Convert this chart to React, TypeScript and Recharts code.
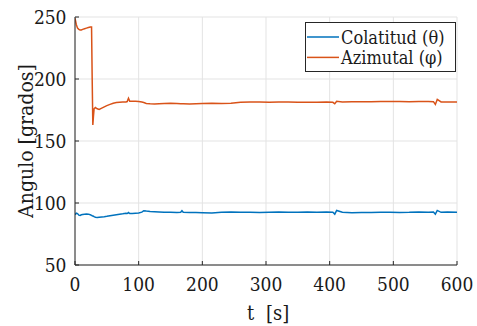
import React from "react";
import { LineChart, Line, XAxis, YAxis, CartesianGrid } from "recharts";

// Sample times (s)
const times = [
  0, 2, 4, 6, 8, 10, 12, 15, 18, 21, 24, 26, 27, 28, 29, 30, 32, 35, 38, 42,
  46, 50, 55, 60, 65, 70, 75, 80, 82, 84, 86, 90, 95, 100, 105, 108, 112, 118,
  125, 132, 140, 150, 160, 166, 168, 170, 180, 190, 200, 215, 230, 245, 260,
  275, 290, 305, 320, 335, 350, 365, 380, 395, 405, 408, 411, 420, 435, 450,
  465, 480, 495, 510, 525, 540, 555, 563, 566, 569, 575, 585, 600,
];

// Colatitude angle θ (degrees)
const colatitud = [
  90.5, 91.8, 91.5, 90.2, 90, 90.5, 90.8, 91, 91.2, 91, 90.5, 90, 89.7, 89.5,
  89.3, 89, 88.5, 88.3, 88.5, 88.8, 89, 89.3, 89.8, 90.2, 90.6, 91, 91.3, 91.8,
  91.5, 92.3, 91.5, 91.6, 91.8, 92, 92.6, 93.8, 93.5, 93.2, 93, 92.8, 92.6,
  92.5, 92.4, 92.5, 93.8, 92.5, 92.4, 92.3, 92.2, 92, 92.5, 92.8, 92.6, 92.5,
  92.3, 92.6, 92.8, 92.5, 92.6, 92.8, 92.5, 92.7, 92.5, 91, 94, 92.5, 92.2,
  92.3, 92.4, 92.6, 92.5, 92.4, 92.5, 92.8, 92.6, 92.8, 91, 94, 92.5, 92.8,
  92.6,
];

// Azimuth angle φ (degrees)
const azimutal = [
  249, 244, 241, 240, 239.5, 239.5, 240, 240.5, 241, 241.5, 242, 242, 200, 163,
  170, 176, 177, 176, 175.5, 176.5, 177.5, 178.5, 179.5, 180.5, 181, 181.3,
  181.5, 181.5, 181.8, 184.5, 182, 182, 182, 181.8, 181.5, 181, 180.3, 180,
  179.8, 180, 180.3, 180.4, 180.2, 180, 180, 180, 179.8, 180, 180.3, 180.4,
  180.2, 180.5, 181.3, 181.5, 181.4, 181.3, 181.4, 181.4, 181.2, 181.3, 181.3,
  181.4, 181.2, 180, 182, 181.5, 181.6, 181.7, 181.7, 181.8, 181.8, 181.8,
  181.7, 181.8, 181.8, 181.7, 179.5, 183.5, 181.5, 181.4, 181.5,
];

const xTicks = [0, 100, 200, 300, 400, 500, 600];
const yTicks = [50, 100, 150, 200, 250];

const seriesNames = ["Colatitud (\u03b8)", "Azimutal (\u03c6)"];
const seriesColors = ["#0072BD", "#D95319"];

const data = times.map((t, i) => ({
  t,
  theta: colatitud[i],
  phi: azimutal[i],
}));

const FONT = "'DejaVu Serif', serif";
const TEXT_STYLE = { fontStretch: "condensed" as const };
const AXIS = "#262626";
const TEXT = "#1a1a1a";
const TICK_LEN = 4;
const LINE_W = 1.5;

const BottomTick = (props: any) => {
  const { x, y, payload } = props;
  return (
    <g>
      <line x1={x} x2={x} y1={y} y2={y - TICK_LEN} stroke={AXIS} strokeWidth={1} />
      <text
        x={x}
        y={y + 19}
        textAnchor="middle"
        dominantBaseline="central"
        fontFamily={FONT}
        fontSize={19}
        style={TEXT_STYLE}
        fill={TEXT}
      >
        {payload.value}
      </text>
    </g>
  );
};

const TopTick = (props: any) => {
  const { x, y } = props;
  return <line x1={x} x2={x} y1={y} y2={y + TICK_LEN} stroke={AXIS} strokeWidth={1} />;
};

const LeftTick = (props: any) => {
  const { x, y, payload } = props;
  return (
    <g>
      <line x1={x} x2={x + TICK_LEN} y1={y} y2={y} stroke={AXIS} strokeWidth={1} />
      <text
        x={x - 8.5}
        y={y}
        textAnchor="end"
        dominantBaseline="central"
        fontFamily={FONT}
        fontSize={19}
        style={TEXT_STYLE}
        fill={TEXT}
      >
        {payload.value}
      </text>
    </g>
  );
};

const RightTick = (props: any) => {
  const { x, y } = props;
  return <line x1={x} x2={x - TICK_LEN} y1={y} y2={y} stroke={AXIS} strokeWidth={1} />;
};

const XLabel = (props: any) => {
  const vb = props.viewBox || { x: 75, y: 265, width: 382, height: 40 };
  const cx = vb.x + vb.width / 2;
  const cy = vb.y + 48;
  return (
    <text
      y={cy}
      dominantBaseline="central"
      fontFamily={FONT}
      fontSize={20}
      style={TEXT_STYLE}
      fill={TEXT}
    >
      <tspan x={cx - 19}>t</tspan>
      <tspan x={cx}>[s]</tspan>
    </text>
  );
};

const YLabel = (props: any) => {
  const vb = props.viewBox || { x: 15, y: 17, width: 60, height: 248 };
  const cx = vb.x + 10.5;
  const cy = vb.y + vb.height / 2;
  return (
    <text
      x={cx}
      y={cy}
      transform={`rotate(-90, ${cx}, ${cy})`}
      textAnchor="middle"
      dominantBaseline="central"
      fontFamily={FONT}
      fontSize={21}
      style={TEXT_STYLE}
      fill={TEXT}
    >
      Angulo [grados]
    </text>
  );
};

// Boxed legend in the upper-right corner of the axes
const LegendBox = () => (
  <svg
    width={151}
    height={50}
    style={{ position: "absolute", left: 305, top: 22, overflow: "visible" }}
  >
    <rect x={0.5} y={0.5} width={150} height={49} fill="#fff" stroke={AXIS} strokeWidth={1} />
    {seriesNames.map((name, i) => {
      const cy = 15 + i * 20.4;
      return (
        <g key={name}>
          <line x1={2} x2={34} y1={cy} y2={cy} stroke={seriesColors[i]} strokeWidth={LINE_W} />
          <text
            x={36}
            y={cy}
            dominantBaseline="central"
            fontFamily={FONT}
            fontSize={18}
            style={TEXT_STYLE}
            fill={TEXT}
          >
            {name}
          </text>
        </g>
      );
    })}
  </svg>
);

export default function App() {
  return (
    <div
      style={{
        position: "absolute",
        left: 0,
        top: 0,
        width: 477,
        height: 326,
        background: "#fff",
      }}
    >
      <LineChart
        width={477}
        height={326}
        data={data}
        margin={{ top: 17, right: 20, bottom: 21, left: 15 }}
      >
        <CartesianGrid
          stroke="#e3e3e3"
          strokeWidth={1}
          horizontalValues={yTicks}
          verticalValues={xTicks}
          xAxisId="bottom"
          yAxisId="left"
        />
        <XAxis
          xAxisId="bottom"
          dataKey="t"
          type="number"
          domain={[0, 600]}
          ticks={xTicks}
          allowDataOverflow
          height={40}
          tickSize={0}
          tickMargin={0}
          tickLine={false}
          tick={<BottomTick />}
          axisLine={{ stroke: AXIS, strokeWidth: 1 }}
          label={<XLabel />}
        />
        <XAxis
          xAxisId="top"
          orientation="top"
          dataKey="t"
          type="number"
          domain={[0, 600]}
          ticks={xTicks}
          allowDataOverflow
          height={0}
          tickSize={0}
          tickMargin={0}
          tickLine={false}
          tick={<TopTick />}
          axisLine={{ stroke: AXIS, strokeWidth: 1 }}
        />
        <YAxis
          yAxisId="left"
          type="number"
          domain={[50, 250]}
          ticks={yTicks}
          allowDataOverflow
          width={60}
          tickSize={0}
          tickMargin={0}
          tickLine={false}
          tick={<LeftTick />}
          axisLine={{ stroke: AXIS, strokeWidth: 1 }}
          label={<YLabel />}
        />
        <YAxis
          yAxisId="right"
          orientation="right"
          type="number"
          domain={[50, 250]}
          ticks={yTicks}
          allowDataOverflow
          width={0}
          tickSize={0}
          tickMargin={0}
          tickLine={false}
          tick={<RightTick />}
          axisLine={{ stroke: AXIS, strokeWidth: 1 }}
        />
        <Line
          xAxisId="bottom"
          yAxisId="left"
          dataKey="theta"
          name={seriesNames[0]}
          stroke={seriesColors[0]}
          strokeWidth={LINE_W}
          dot={false}
          activeDot={false}
          type="linear"
          isAnimationActive={false}
        />
        <Line
          xAxisId="bottom"
          yAxisId="left"
          dataKey="phi"
          name={seriesNames[1]}
          stroke={seriesColors[1]}
          strokeWidth={LINE_W}
          dot={false}
          activeDot={false}
          type="linear"
          isAnimationActive={false}
        />
      </LineChart>
      <LegendBox />
    </div>
  );
}
